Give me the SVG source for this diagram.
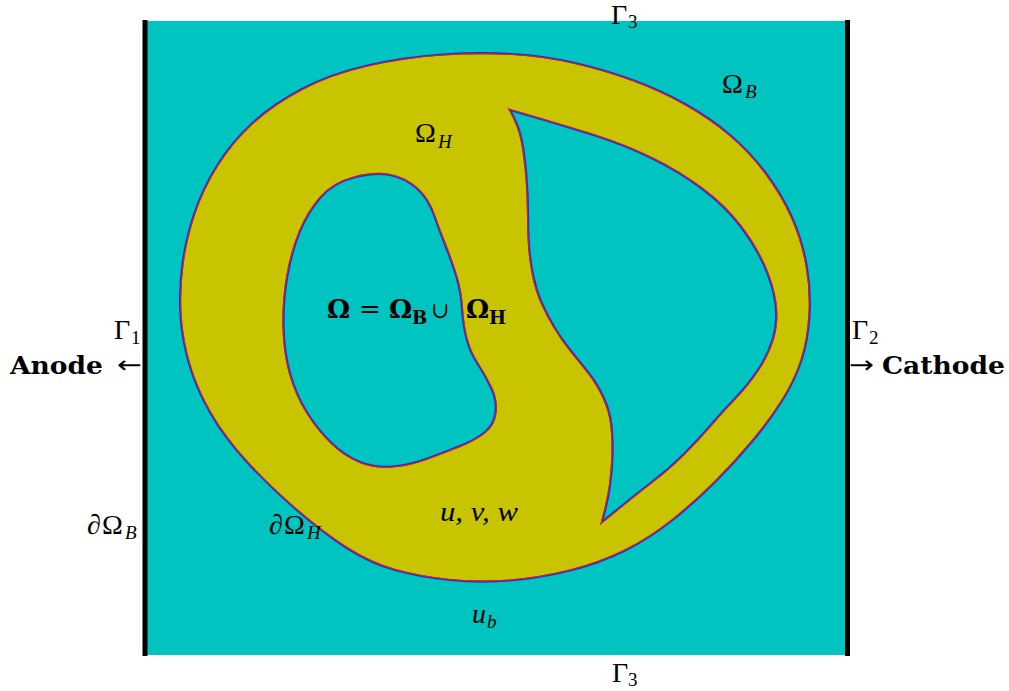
<svg xmlns="http://www.w3.org/2000/svg" width="1009" height="691" viewBox="0 0 1009 691">
<style>
.t{font-family:"Liberation Serif","DejaVu Serif",serif;font-size:28px;fill:#000}
.i{font-style:italic}
.s{font-size:19px}
.b{font-family:"DejaVu Serif","Liberation Serif",serif;font-weight:bold;font-size:25px}
.a{font-family:"DejaVu Sans",sans-serif;font-size:24px}
.edgeB{fill:none;stroke:#2a2ad8;stroke-width:2.2}
.edgeR{fill:none;stroke:#d82020;stroke-width:2.2}
</style>
<defs>
<path id="region" fill-rule="evenodd" d="M442.5,54.5 Q480,52 512.5,54 Q545,56 575,63 Q605,70 632.5,80 Q660,90 685,104 Q710,118 730,135 Q750,152 766,173.5 Q782,195 792,217.5 Q802,240 806.5,265 Q811,290 809.5,315 Q808,340 801.5,360 Q795,380 782.5,400 Q770,420 752.5,441 Q735,462 715,482 Q695,502 672.5,520 Q650,538 625,550.5 Q600,563 570,570.5 Q540,578 510,580.5 Q480,583 450,580 Q420,577 395,570 Q370,563 346,547.5 Q322,532 295,508.5 Q268,485 246.5,461.5 Q225,438 211,414 Q197,390 189.5,365 Q182,340 180.5,315 Q179,290 182.5,264 Q186,238 194.5,213 Q203,188 217.5,165 Q232,142 252,123.5 Q272,105 301,89.5 Q330,74 367.5,65.5 Q405,57 442.5,54.5 Z
M354,177.5 Q375,172 390,175 Q405,178 416.5,188 Q428,198 434,215 Q440,232 446,247 Q452,262 456.5,277 Q461,292 462,308.5 Q463,325 466.5,338.5 Q470,352 477.5,363.5 Q485,375 491,387.5 Q497,400 495.5,412.5 Q494,425 484.5,432.5 Q475,440 460,446 Q445,452 427.5,458.5 Q410,465 392.5,466.5 Q375,468 360,462 Q345,456 331.5,443 Q318,430 307,412.5 Q296,395 290,373.5 Q284,352 283.5,326 Q283,300 287.5,275 Q292,250 300,231 Q308,212 320.5,197.5 Q333,183 354,177.5 Z
M510,110 Q565,126 595,135.5 Q625,145 652.5,158.5 Q680,172 702.5,189 Q725,206 740,225.5 Q755,245 764,265 Q773,285 775.5,303.5 Q778,322 773,338.5 Q768,355 758,370 Q748,385 735,398.5 Q722,412 710,426 Q698,440 684,454 Q670,468 652.5,481.5 Q635,495 602,522 Q608,500 610,485 Q612,470 612.5,455 Q613,440 611.5,426 Q610,412 604,398.5 Q598,385 589,373.5 Q580,362 571,351 Q562,340 554.5,327.5 Q547,315 541.5,302.5 Q536,290 533,275 Q530,260 529,245 Q528,230 528,212.5 Q528,195 526.5,177.5 Q525,160 523,147.5 Q521,135 517.5,126 Q514,117 510,110 Z"/>
<clipPath id="clipY"><use href="#region" clip-rule="evenodd"/></clipPath>
</defs>
<rect width="1009" height="691" fill="#ffffff"/>
<g id="domain">
<rect x="147" y="21" width="699" height="634" fill="#00c4bf"/>
<use href="#region" fill="#c9c400"/>
<use href="#region" class="edgeB"/>
<g clip-path="url(#clipY)"><use href="#region" class="edgeR"/></g>
</g>
<g id="electrodes">
<rect x="142.5" y="20" width="5" height="636" fill="#000"/>
<rect x="845" y="20" width="5" height="636" fill="#000"/>
</g>
<g id="labels">
<text class="t" x="611" y="24">Γ<tspan class="s" x="628" y="28">3</tspan></text>
<text class="t" x="612" y="682">Γ<tspan class="s" x="628" y="686">3</tspan></text>
<text class="t" x="114" y="339">Γ<tspan class="s" x="131" y="344">1</tspan></text>
<text class="t" x="852" y="339">Γ<tspan class="s" x="869" y="344">2</tspan></text>
<text class="b" x="10" y="374" textLength="93" lengthAdjust="spacingAndGlyphs">Anode</text>
<text class="a" x="117" y="373" textLength="25" lengthAdjust="spacingAndGlyphs">←</text>
<text class="a" x="849" y="373" textLength="25" lengthAdjust="spacingAndGlyphs">→</text>
<text class="b" x="882" y="374" textLength="123" lengthAdjust="spacingAndGlyphs">Cathode</text>
<text class="t" x="415" y="142">Ω<tspan class="s i" x="438" y="148">H</tspan></text>
<text class="t" x="722" y="93">Ω<tspan class="s i" x="745" y="98">B</tspan></text>
<text class="t" x="87" y="534">∂<tspan x="102">Ω</tspan><tspan class="s i" x="125" y="539">B</tspan></text>
<text class="t" x="269" y="534">∂<tspan x="284">Ω</tspan><tspan class="s i" x="307" y="539">H</tspan></text>
<text class="t i" x="440" y="521" textLength="78" lengthAdjust="spacingAndGlyphs">u, v, w</text>
<text class="t i" x="472" y="623">u<tspan class="s" x="487" y="628">b</tspan></text>
<g font-family="'DejaVu Serif','Liberation Serif',serif" font-weight="bold">
<text x="327" y="318" font-size="26">Ω</text>
<text x="359" y="318" font-size="26" font-weight="normal">=</text>
<text x="389" y="318" font-size="26">Ω</text>
<text x="412" y="324" font-size="18">B</text>
<text x="431" y="318" font-size="22" font-weight="normal">∪</text>
<text x="466" y="318" font-size="26">Ω</text>
<text x="489" y="324" font-size="18">H</text>
</g>
</g>
</svg>
